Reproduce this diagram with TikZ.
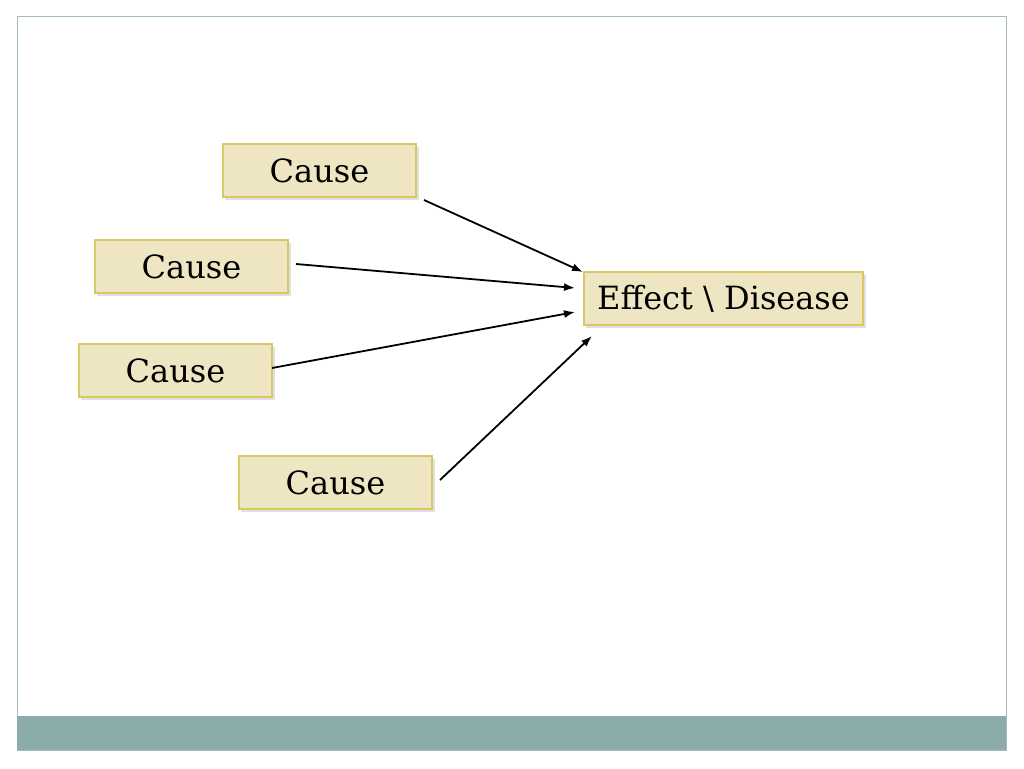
\documentclass[tikz,border=0pt]{standalone}
\usepackage{fontspec}
\setmainfont{DejaVu Serif}
\begin{document}
\begin{tikzpicture}[x=1pt,y=-1pt,
  box/.style={draw=boxline,fill=boxfill,line width=1.2pt,inner sep=0pt,font=\fontsize{32}{36}\selectfont},
  arr/.style={-{Latex[length=11pt,width=8pt]},line width=1.8pt,black}]
\usetikzlibrary{arrows.meta}
\definecolor{boxfill}{HTML}{EEE5C2}
\definecolor{boxline}{HTML}{D9C766}
\definecolor{frame}{HTML}{8CACAC}
\useasboundingbox (0,0) rectangle (1024,768);
\fill[white] (0,0) rectangle (1024,768);
\draw[frame!80,line width=1pt] (17,17) rectangle (1006,750);
\fill[frame] (17,716) rectangle (1006,750);
\foreach \x/\y/\w in {319.5/170.5/193, 191.5/266.5/193, 175.5/370.5/193, 335.5/482.5/193, 723.5/298.5/279}
  \fill[black!12] (\x-\w/2+2,\y-26.5+3) rectangle (\x+\w/2+3,\y+26.5+3);
\node[box,minimum width=193pt,minimum height=53pt] (c1) at (319.5,170.5) {Cause\hspace{8pt}};
\node[box,minimum width=193pt,minimum height=53pt] (c2) at (191.5,266.5) {Cause\hspace{8pt}};
\node[box,minimum width=193pt,minimum height=53pt] (c3) at (175.5,370.5) {Cause\hspace{8pt}};
\node[box,minimum width=193pt,minimum height=53pt] (c4) at (335.5,482.5) {Cause\hspace{8pt}};
\node[box,minimum width=279pt,minimum height=53pt] (e) at (723.5,298.5) {Effect \textbackslash{} Disease};
\coordinate (s1) at (424,200); \coordinate (t1) at (583,272);
\coordinate (s2) at (296,264); \coordinate (t2) at (575,288);
\coordinate (s3) at (272,368); \coordinate (t3) at (575,312);
\coordinate (s4) at (440,480); \coordinate (t4) at (592,336);
\draw[arr] (s1) -- (t1);
\draw[arr] (s2) -- (t2);
\draw[arr] (s3) -- (t3);
\draw[arr] (s4) -- (t4);
\end{tikzpicture}
\end{document}
